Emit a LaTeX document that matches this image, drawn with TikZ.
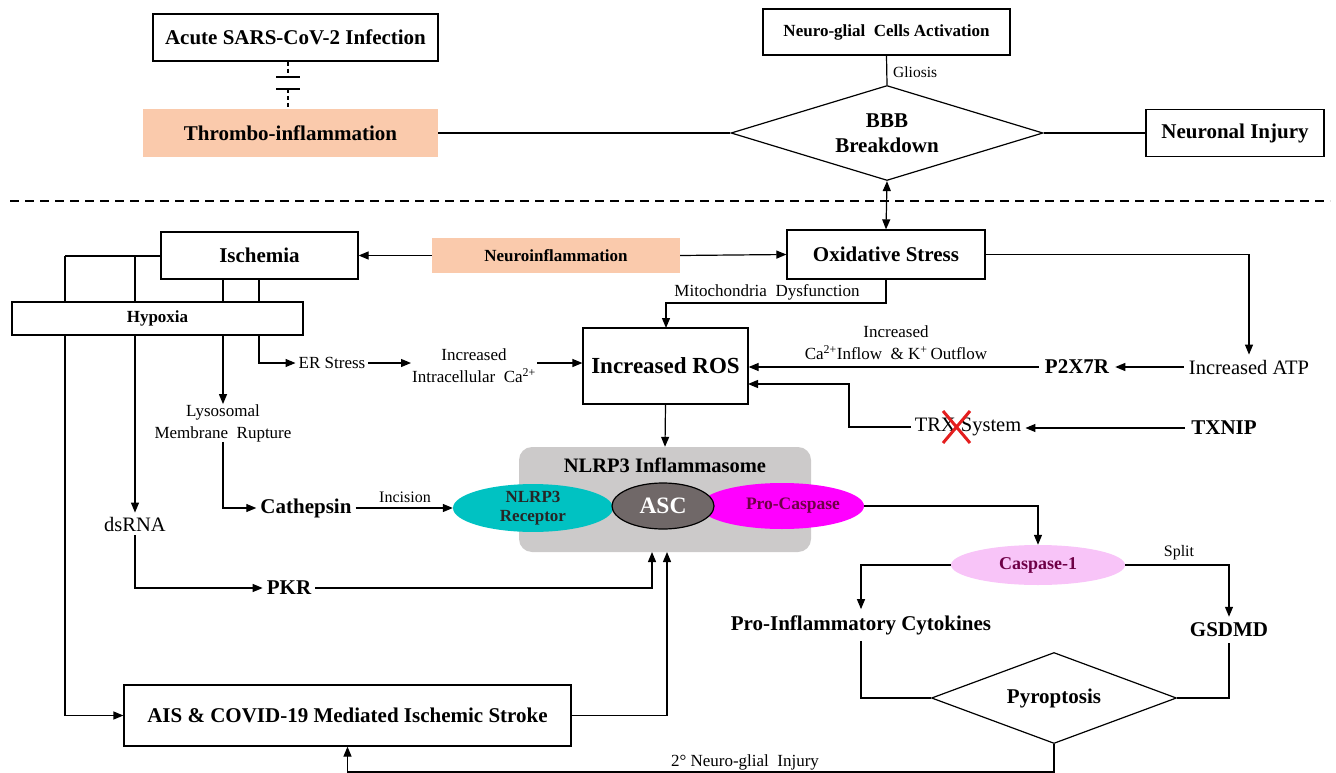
\documentclass[tikz,border=0pt]{standalone}
\usepackage{fontspec}
\setmainfont{Liberation Serif}
\usetikzlibrary{arrows.meta,shapes.geometric}
\pgfdeclarelayer{bg}
\pgfsetlayers{bg,main}
\definecolor{peach}{RGB}{250,202,172}
\definecolor{graybox}{RGB}{204,202,202}
\definecolor{cyanE}{RGB}{0,194,194}
\definecolor{ascfill}{RGB}{112,104,104}
\definecolor{magE}{RGB}{255,0,255}
\definecolor{pinkE}{RGB}{248,196,248}
\definecolor{ptext}{RGB}{110,0,70}
\definecolor{xred}{RGB}{228,30,30}
\tikzset{
  ln/.style={line width=1.2pt},
  tip/.tip={Triangle[length=10pt,width=8pt]},
  arr/.style={ln,-tip},
  box/.style={draw,line width=1.2pt,fill=white,inner sep=0pt,align=center},
  pbox/.style={fill=peach,inner sep=0pt,align=center},
  dia/.style={draw,line width=1.2pt,fill=white,shape=diamond,aspect=3,inner sep=0pt,align=center},
  txt/.style={inner sep=3pt,align=center},
  bA/.style={font=\fontsize{21}{25}\selectfont\bfseries},
  bB/.style={font=\fontsize{17}{20}\selectfont\bfseries},
  rA/.style={font=\fontsize{20.5}{24}\selectfont},
  rB/.style={font=\fontsize{17}{22}\selectfont},
}
\begin{document}
\begin{tikzpicture}[x=1pt,y=-1pt]
\useasboundingbox (0,0) rectangle (1336,773);
% ---------- top part ----------
\node[box,bA,minimum width=285,minimum height=47] (acute) at (295.5,37.5) {Acute SARS-CoV-2 Infection};
\node[pbox,bA,minimum width=295,minimum height=48] (thrombo) at (290.5,133) {Thrombo-inflammation};
\node[box,bB,minimum width=247,minimum height=46] (ngca) at (886.5,32) {Neuro-glial\ \ Cells Activation};
\node[dia,bA,minimum width=312,minimum height=95] (bbb) at (887,133) {BBB\\Breakdown};
\node[box,bA,minimum width=178,minimum height=47] (neuronal) at (1235,133) {Neuronal Injury};
\node[txt,font=\fontsize{15.5}{18}\selectfont,anchor=west] (gliosis) at (890,72) {Gliosis};
\coordinate (capA) at (288,77);
\coordinate (capB) at (288,89);
% ---------- middle ----------
\node[box,bA,minimum width=198,minimum height=49] (oxid) at (886,254.5) {Oxidative Stress};
\node[pbox,bB,minimum width=248,minimum height=35] (neuroinf) at (556,255.5) {Neuroinflammation};
\node[box,bA,minimum width=197,minimum height=47] (isch) at (259.5,255.5) {Ischemia};
\node[box,bB,minimum width=291,minimum height=33] (hypoxia) at (157.5,318.5) {Hypoxia};
\node[box,font=\fontsize{23}{26}\selectfont\bfseries,minimum width=165,minimum height=76] (ros) at (665.5,366) {Increased ROS};
\node[txt,rB] (er) at (332,363) {ER Stress};
\node[txt,rB,inner sep=1pt] (incca) at (474,366) {Increased\\Intracellular\ \ Ca\textsuperscript{2+}};
\node[txt,rB,inner sep=0pt] (lyso) at (223,423) {Lysosomal\\Membrane\ \ Rupture};
\node[txt,bA,inner sep=4pt] (cath) at (306,508) {Cathepsin};
\node[txt,rA,inner sep=4pt] (dsrna) at (135,524) {dsRNA};
\node[txt,bA,inner sep=4pt] (pkr) at (289,588) {PKR};
\node[txt,bA,inner sep=6pt] (p2x7r) at (1077,367) {P2X7R};
\node[txt,rA,inner sep=5pt] (atp) at (1249,367) {Increased ATP};
\node[txt,rA,inner sep=4pt] (trx) at (968,427) {TRX System};
\node[txt,bA,inner sep=6pt] (txnip) at (1224,428) {TXNIP};
\node[txt,rB] (mito) at (767,292) {Mitochondria\ \ Dysfunction};
\node[txt,rB] (p2lab) at (896,343) {Increased\\Ca\textsuperscript{2+}Inflow\ \ \& K\textsuperscript{+}\,Outflow};
\draw[xred,line width=3pt] (943,411) -- (970,443) (970,411) -- (943,443);
% ---------- inflammasome ----------
\node[fill=graybox,rounded corners=13pt,minimum width=292,minimum height=105,inner sep=0pt] (gray) at (665,499.5) {};
\node[txt,font=\fontsize{20.5}{22}\selectfont\bfseries] (nlrtitle) at (665,465) {NLRP3 Inflammasome};
\node[ellipse,fill=cyanE,minimum width=160,minimum height=46,inner sep=0pt,align=center,font=\fontsize{17}{19}\selectfont\bfseries,text=black!85] (nlrp3) at (533,508) {NLRP3\\Receptor};
\node[ellipse,fill=magE,minimum width=150,minimum height=46,inner sep=0pt,font=\fontsize{17.5}{20}\selectfont\bfseries,text=ptext] (procasp) at (782,506) {\hspace*{22pt}Pro-Caspase};
\node[ellipse,draw,line width=1.2pt,fill=ascfill,minimum width=102,minimum height=46,inner sep=0pt,font=\fontsize{23.5}{26}\selectfont\bfseries,text=white] (asc) at (663,506) {ASC};
\node[txt,rB,font=\fontsize{16}{20}\selectfont] (incision) at (405,497) {Incision};
% ---------- lower right ----------
\node[ellipse,fill=pinkE,minimum width=174,minimum height=40,inner sep=0pt,font=\fontsize{18}{20}\selectfont\bfseries,text=ptext] (casp1) at (1038,565) {Caspase-1};
\node[txt,bA,inner sep=6pt] (cyto) at (861,625) {Pro-Inflammatory Cytokines};
\node[txt,bA,inner sep=6pt] (gsdmd) at (1229,630) {GSDMD};
\node[txt,font=\fontsize{16}{18}\selectfont] (split) at (1179,553) {Split};
\node[dia,bA,minimum width=245,minimum height=91] (pyro) at (1054,698) {Pyroptosis};
% ---------- bottom ----------
\node[box,bA,minimum width=447,minimum height=61] (ais) at (347.5,715.5) {AIS \& COVID-19 Mediated Ischemic Stroke};
\node[txt,rB] (nglab) at (745,762) {2° Neuro-glial\ \ Injury};
\coordinate (bl) at (1054,772);
\coordinate (c259) at (259,0);
% ---------- connectors ----------
\begin{pgfonlayer}{bg}
\draw[ln,dash pattern=on 4pt off 3pt] (acute.south -| capA) -- (capA);
\draw[ln] ([xshift=-12pt]capA) -- ([xshift=12pt]capA);
\draw[ln] ([xshift=-12pt]capB) -- ([xshift=12pt]capB);
\draw[ln,dash pattern=on 4pt off 3pt] (capB) -- (thrombo.north -| capB);
\draw[ln] (thrombo.east) -- (bbb.west);
\draw[ln] (ngca.south) -- (bbb.north);
\draw[ln] (bbb.east) -- (neuronal.west);
\draw[ln,tip-tip] (bbb.south) -- (oxid.north);
\draw[dash pattern=on 9pt off 6pt,line width=1.8pt] (10,201) -- (1330,201);
\draw[arr] (neuroinf.west) -- (isch.east);
\draw[arr] (neuroinf.east) -- (oxid.west);
% from ischemia
\coordinate (ia) at (65,256);
\coordinate (ib) at (135,256);
\draw[ln] (isch.west |- ia) -- (ia);
\draw[arr] (ia) -- (ia |- ais.west) -- (ais.west);
\draw[arr] (ib) -- (dsrna.north);
\draw[arr] (isch.south -| lyso.north) -- (lyso.north);
\draw[arr] (isch.south -| c259) -- (259,363) -- (er.west);
\draw[arr] (er.east) -- (er.east -| incca.west);
\draw[arr] (incca.east |- er.east) -- (ros.west |- er.east);
\draw[arr] (lyso.south) -- (lyso.south |- cath.west) -- (cath.west);
\draw[arr] (cath.east) -- (nlrp3.west);
\draw[arr] (dsrna.south) -- (dsrna.south |- pkr.west) -- (pkr.west);
\draw[arr] (pkr.east) -- (652,588) -- (652,552);
\draw[arr] (ais.east) -- (667,715.5) -- (667,552);
% oxidative
\draw[arr] (oxid.south) -- (886,303) -- (666,303) -- (666,328);
\draw[arr] (oxid.east) -- (atp.north |- oxid.east) -- (atp.north);
\draw[arr] (atp.west) -- (p2x7r.east);
\draw[arr] (p2x7r.west) -- (ros.east |- p2x7r.west);
\draw[arr] (trx.west) -- (849,427) -- (849,384) -- (748,384);
\draw[arr] (txnip.west) -- (trx.east |- txnip.west);
\draw[arr] (ros.south) -- (gray.north);
% caspase
\draw[arr] (procasp.east) -- (casp1.north |- procasp.east) -- (casp1.north);
\draw[arr] (casp1.west) -- (cyto.north |- casp1.west) -- (cyto.north);
\draw[arr] (casp1.east) -- (gsdmd.north |- casp1.east) -- (gsdmd.north);
\draw[ln] (cyto.south) -- (cyto.south |- pyro.west) -- (pyro.west);
\draw[ln] (gsdmd.south) -- (gsdmd.south |- pyro.east) -- (pyro.east);
\draw[arr] (pyro.south) -- (bl) -- (bl -| ais.south) -- (ais.south);
\end{pgfonlayer}
\end{tikzpicture}
\end{document}
